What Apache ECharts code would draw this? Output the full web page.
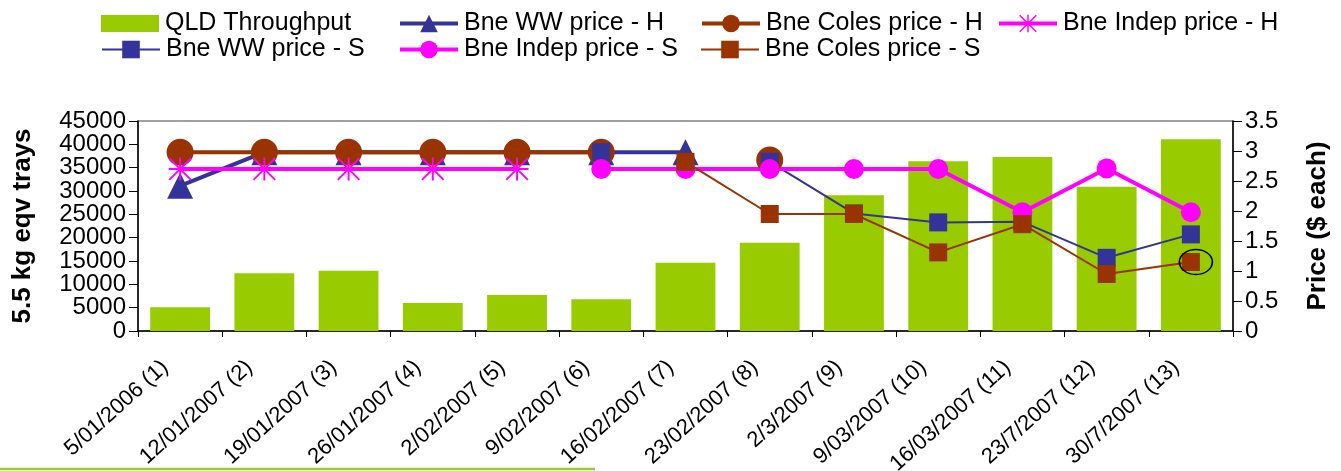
<!DOCTYPE html>
<html>
<head>
<meta charset="utf-8">
<script src="https://cdn.jsdelivr.net/npm/echarts@6/dist/echarts.min.js"></script>
<style>
html,body{margin:0;padding:0;background:#fff;}
#chart{width:1341px;height:471px;}
</style>
</head>
<body>
<div id="chart"></div>
<script>
const categories = ['5/01/2006 (1)','12/01/2007 (2)','19/01/2007 (3)','26/01/2007 (4)','2/02/2007 (5)','9/02/2007 (6)','16/02/2007 (7)','23/02/2007 (8)','2/3/2007 (9)','9/03/2007 (10)','16/03/2007 (11)','23/7/2007 (12)','30/7/2007 (13)'];
const throughput = [5100, 12400, 12900, 6000, 7700, 6800, 14600, 18900, 29100, 36400, 37300, 30900, 41100];
const wwH    = [2.42, 2.98, 2.98, 2.98, 2.98, 2.98, 2.98, null, null, null, null, null, null];
const colesH = [2.98, 2.98, 2.98, 2.98, 2.98, 2.98, null, 2.85, null, null, null, null, null];
const indepH = [2.7, 2.7, 2.7, 2.7, 2.7, null, null, null, null, null, null, null, null];
const wwS    = [null, null, null, null, null, 2.98, null, 2.82, 1.96, 1.81, 1.82, 1.22, 1.61];
const indepS = [null, null, null, null, null, 2.7, 2.7, 2.7, 2.7, 2.7, 1.98, 2.71, 1.98];
const colesS = [null, null, null, null, null, null, 2.82, 1.95, 1.95, 1.31, 1.78, 0.95, 1.15];
const leftTicks = [0, 45000, 5000];
const rightTicks = [0, 3.5, 0.5];

const FONT = 'Liberation Sans, Arial, sans-serif';
const GREEN = '#99CC00', BLUE = '#333399', BROWN = '#993300', PINK = '#FF00FF';
const ASTERISK = 'path://M0,1.4L1.4,0L24,22.6L22.6,24Z M22.6,0L24,1.4L1.4,24L0,22.6Z M11,0L13,0L13,24L11,24Z M0,11L24,11L24,13L0,13Z';
const ELLIPSE = 'path://M0,10A10,10 0 1,1 20,10A10,10 0 1,1 0,10Z';

const chart = echarts.init(document.getElementById('chart'), null, {renderer: 'canvas'});

function lg(name, left, top, lw, icon) {
  const o = {
    data: [name], left: left, top: top, orient: 'horizontal',
    itemWidth: 58, itemHeight: 22, itemGap: 0, padding: 0,
    selectedMode: false,
    lineStyle: {width: lw},
    textStyle: {fontFamily: FONT, fontSize: 25, color: '#000', padding: [0, 0, 0, 1]}
  };
  if (icon) { o.icon = icon; o.itemHeight = 17; }
  return o;
}

// Labels at the two ends of the left axis (the inner ones are drawn by a twin axis,
// so that ECharts' end-label overlap check does not drop any of them).
const leftEnds = [leftTicks[0], leftTicks[1]];

const option = {
  backgroundColor: '#fff',
  animation: false,
  textStyle: {fontFamily: FONT},
  legend: [
    lg('QLD Throughput', 101, 11, 0, 'rect'),
    lg('Bne WW price - H', 398, 11, 4),
    lg('Bne Coles price - H', 700, 11, 4),
    lg('Bne Indep price - H', 997, 11, 4),
    lg('Bne WW price - S', 101, 37, 2),
    lg('Bne Indep price - S', 398, 37, 4),
    lg('Bne Coles price - S', 700, 37, 2)
  ],
  grid: {left: 138, right: 108, top: 121, bottom: 140, containLabel: false, outerBoundsMode: 'none',
    show: true, borderColor: '#808080', borderWidth: 1.5, backgroundColor: 'transparent'},
  xAxis: {
    type: 'category', data: categories, boundaryGap: true,
    axisLine: {lineStyle: {color: '#000', width: 1.5}},
    axisTick: {show: true, length: 6, lineStyle: {color: '#000'}},
    axisLabel: {interval: 0, rotate: 42, fontSize: 22, color: '#000', fontFamily: FONT, margin: 20, padding: [0, 20, 0, 0]}
  },
  yAxis: [
    {
      type: 'value', min: leftTicks[0], max: leftTicks[1], interval: leftTicks[2], position: 'left',
      name: '5.5 kg eqv trays', nameLocation: 'middle', nameRotate: 90, nameGap: 102,
      nameTextStyle: {fontSize: 26, fontWeight: 'bold', color: '#000', fontFamily: FONT},
      axisLine: {show: true, lineStyle: {color: '#000', width: 1.5}},
      axisTick: {show: true, length: 9, lineStyle: {color: '#000'}},
      axisLabel: {fontSize: 24, color: '#000', margin: 12, fontFamily: FONT, showMinLabel: true, showMaxLabel: true,
        formatter: function (v) { return leftEnds.indexOf(v) >= 0 ? String(v) : ''; }},
      splitLine: {show: false}
    },
    {
      type: 'value', min: rightTicks[0], max: rightTicks[1], interval: rightTicks[2], position: 'right',
      name: 'Price ($ each)', nameLocation: 'middle', nameRotate: 90, nameGap: 72,
      nameTextStyle: {fontSize: 26, fontWeight: 'bold', color: '#000', fontFamily: FONT},
      axisLine: {show: true, lineStyle: {color: '#000', width: 1.5}},
      axisTick: {show: true, length: 9, lineStyle: {color: '#000'}},
      axisLabel: {fontSize: 24, color: '#000', margin: 12, fontFamily: FONT, showMinLabel: true, showMaxLabel: true},
      splitLine: {show: false}
    },
    {
      type: 'value', min: leftTicks[0], max: leftTicks[1], interval: leftTicks[2], position: 'left',
      axisLine: {show: false}, axisTick: {show: false}, splitLine: {show: false},
      axisLabel: {fontSize: 24, color: '#000', margin: 12, fontFamily: FONT, showMinLabel: false, showMaxLabel: false,
        formatter: function (v) { return String(v); }}
    }
  ],
  series: [
    {name: 'QLD Throughput', type: 'bar', data: throughput, yAxisIndex: 0, barCategoryGap: '29%', itemStyle: {color: GREEN}},
    {name: 'Bne WW price - H', type: 'line', data: wwH, yAxisIndex: 1, symbol: 'triangle', symbolSize: 26,
      lineStyle: {color: BLUE, width: 4}, itemStyle: {color: BLUE}},
    {name: 'Bne Coles price - H', type: 'line', data: colesH, yAxisIndex: 1, symbol: 'circle', symbolSize: 27,
      lineStyle: {color: BROWN, width: 4}, itemStyle: {color: BROWN}},
    {name: 'Bne Indep price - H', type: 'line', data: indepH, yAxisIndex: 1, symbol: ASTERISK, symbolSize: 23,
      lineStyle: {color: PINK, width: 4}, itemStyle: {color: PINK}},
    {name: 'Bne WW price - S', type: 'line', data: wwS, yAxisIndex: 1, symbol: 'rect', symbolSize: 18,
      lineStyle: {color: BLUE, width: 2}, itemStyle: {color: BLUE}},
    {name: 'Bne Indep price - S', type: 'line', data: indepS, yAxisIndex: 1, symbol: 'circle', symbolSize: 20,
      lineStyle: {color: PINK, width: 4}, itemStyle: {color: PINK}},
    {name: 'Bne Coles price - S', type: 'line', data: colesS, yAxisIndex: 1, symbol: 'rect', symbolSize: 18,
      lineStyle: {color: BROWN, width: 2}, itemStyle: {color: BROWN},
      markPoint: {
        symbol: ELLIPSE, symbolSize: [33, 25], symbolOffset: [5, 0], silent: true,
        label: {show: false},
        itemStyle: {color: 'rgba(0,0,0,0)', borderColor: '#000', borderWidth: 1.5},
        data: [{coord: [categories.length - 1, colesS[colesS.length - 1]]}]
      }}
  ],
  graphic: [
    {type: 'line', shape: {x1: 0, y1: 469, x2: 595, y2: 469}, style: {stroke: '#99CC33', lineWidth: 2.5}, silent: true}
  ]
};
chart.setOption(option);
</script>
</body>
</html>
